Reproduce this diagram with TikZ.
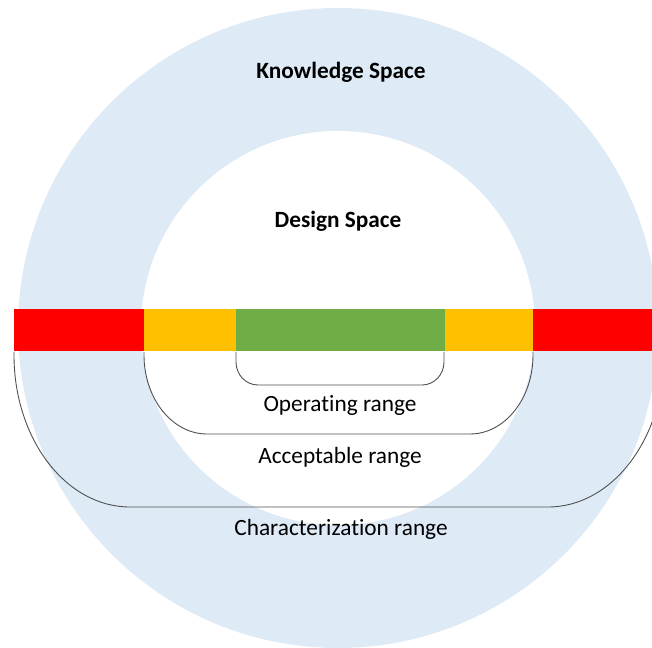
\documentclass[tikz,border=0pt]{standalone}
\usepackage{fontspec}
\setmainfont{Carlito}[Ligatures=NoCommon]
\definecolor{knowblue}{HTML}{DEEBF7}
\definecolor{redzone}{HTML}{FF0000}
\definecolor{amberzone}{HTML}{FFC000}
\definecolor{greenzone}{HTML}{70AD47}
\definecolor{linegray}{HTML}{505050}
\tikzset{
  rangeline/.style={draw=linegray, line width=0.9pt},
  rangelabel/.style={font=\fontsize{23.3}{27}\selectfont, inner sep=0pt, anchor=center},
  spacelabel/.style={font=\fontsize{23.3}{27}\selectfont\bfseries, inner sep=0pt, anchor=center},
  zone/.style={draw=none}
}
\begin{document}
\begin{tikzpicture}[x=1pt,y=-1pt]
\useasboundingbox (0,0) rectangle (652,647);
\clip (0,0) rectangle (652,647);
% knowledge space and design space
\fill[knowblue] (338,328) circle[radius=320];
\fill[white] (338,328) circle[radius=197];
% parameter bar
\fill[zone, redzone] (14,309) rectangle (144,351);
\fill[zone, amberzone] (144,309) rectangle (236,351);
\fill[zone, greenzone] (236,309) rectangle (445,351);
\fill[zone, amberzone] (445,309) rectangle (533,351);
\fill[zone, redzone] (533,309) rectangle (664,351);
% range brackets
\draw[rangeline] (236,352) -- (236,362)
  arc[start angle=180, end angle=90, x radius=22, y radius=23] -- (422,385)
  arc[start angle=90, end angle=0, x radius=22, y radius=23] -- (444,352);
\draw[rangeline] (144,352) -- (144,355)
  arc[start angle=180, end angle=90, x radius=63, y radius=79] -- (470,434)
  arc[start angle=90, end angle=0, x radius=63, y radius=79] -- (533,352);
\draw[rangeline] (14,352) -- (14,355)
  arc[start angle=180, end angle=90, x radius=116, y radius=152] -- (548,507)
  arc[start angle=90, end angle=0, x radius=116, y radius=152] -- (664,352);
% labels
\node[spacelabel] (know) at (341,72) {Knowledge Space};
\node[spacelabel] (design) at (338,221) {Design Space};
\node[rangelabel] (oper) at (340,405) {Operating range};
\node[rangelabel] (accept) at (340,457) {Acceptable range};
\node[rangelabel] (charac) at (341,529) {Characterization range};
\end{tikzpicture}
\end{document}
